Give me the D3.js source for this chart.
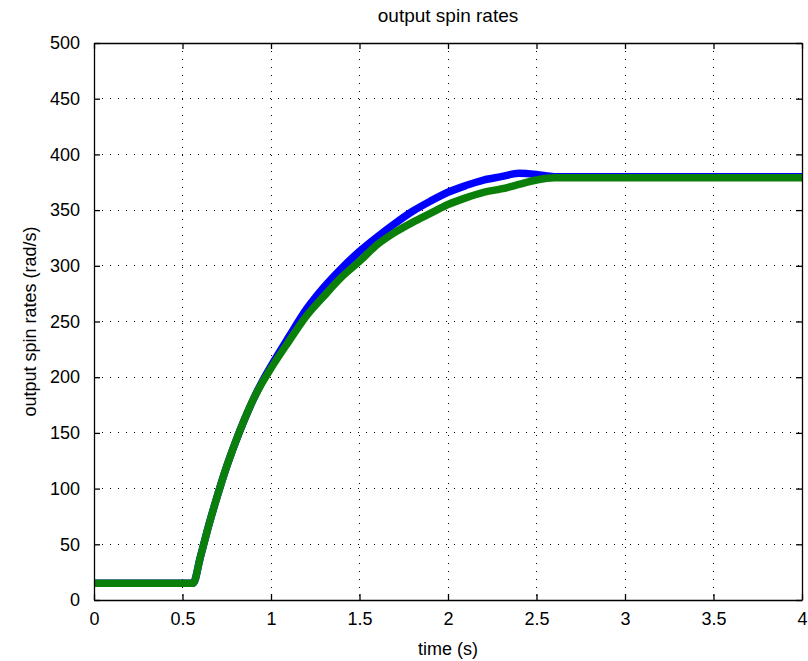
<!DOCTYPE html>
<html>
<head>
<meta charset="utf-8">
<script src="https://cdn.jsdelivr.net/npm/d3@7"></script>
<style>
  html, body { margin: 0; padding: 0; background: #ffffff; }
  svg { display: block; }
  text { font-family: "Liberation Sans", Arial, sans-serif; fill: #000; }
</style>
</head>
<body>
<svg id="chart" width="808" height="661"></svg>
<script>
// ---- data ----
const time = [0, 0.3, 0.56, 0.6, 0.65, 0.7, 0.75, 0.8, 0.85, 0.9, 0.95, 1.0, 1.1, 1.2, 1.3, 1.4, 1.5, 1.6, 1.7, 1.8, 1.9, 2.0, 2.1, 2.2, 2.3, 2.4, 2.5, 2.6, 2.8, 3.0, 3.5, 4.0];
const blueRate = [15, 15, 15, 38, 68, 95, 120, 142, 162, 180, 196, 210, 236, 261, 281, 298, 313, 326, 338, 349, 358, 366, 372, 377, 380, 383, 382, 380, 380, 380, 380, 380];
const greenRate = [15, 15, 15, 38, 68, 95, 120, 142, 162, 180, 195, 208, 232, 255, 273, 290, 304, 319, 330, 339, 347, 355, 361, 366, 369, 373, 377, 379, 379, 379, 379, 379];
const xTicks = [0, 0.5, 1, 1.5, 2, 2.5, 3, 3.5, 4];
const xTickLabels = ["0", "0.5", "1", "1.5", "2", "2.5", "3", "3.5", "4"];
const yTicks = [0, 50, 100, 150, 200, 250, 300, 350, 400, 450, 500];
const titleText = "output spin rates";
const xLabelText = "time (s)";
const yLabelText = "output spin rates (rad/s)";

// ---- layout ----
const svg = d3.select("#chart");
const L = 94, R = 802, T = 43, B = 600;
const x = d3.scaleLinear().domain([0, 4]).range([L, R]);
const y = d3.scaleLinear().domain([0, 500]).range([B, T]);

// grid
const grid = svg.append("g");
grid.selectAll(".gx").data(xTicks.slice(1, -1)).enter().append("line")
  .attr("x1", d => x(d)).attr("x2", d => x(d)).attr("y1", T).attr("y2", B)
  .attr("stroke", "#000").attr("stroke-width", 1).attr("stroke-dasharray", "1,7")
  .attr("shape-rendering", "crispEdges");
grid.selectAll(".gy").data(yTicks.slice(1, -1)).enter().append("line")
  .attr("x1", L).attr("x2", R).attr("y1", d => y(d)).attr("y2", d => y(d))
  .attr("stroke", "#000").attr("stroke-width", 1).attr("stroke-dasharray", "1,7")
  .attr("shape-rendering", "crispEdges");

// lines
const line = d3.line().curve(d3.curveMonotoneX);
const bluePts = time.map((t, i) => [x(t), y(blueRate[i])]);
const greenPts = time.map((t, i) => [x(t), y(greenRate[i])]);
svg.append("path").attr("d", line(bluePts)).attr("fill", "none")
  .attr("stroke", "#0000ff").attr("stroke-width", 7.5).attr("stroke-linejoin", "round");
svg.append("path").attr("d", line(greenPts)).attr("fill", "none")
  .attr("stroke", "#0a7f0a").attr("stroke-width", 7.5).attr("stroke-linejoin", "round");

// axes
const fmtX = (d, i) => xTickLabels[i];
const ax = svg.append("g").attr("transform", `translate(0,${B})`)
  .call(d3.axisBottom(x).tickValues(xTicks).tickFormat(fmtX).tickSizeInner(-6).tickSizeOuter(0).tickPadding(12));
const axTop = svg.append("g").attr("transform", `translate(0,${T})`)
  .call(d3.axisTop(x).tickValues(xTicks).tickFormat("").tickSizeInner(-6).tickSizeOuter(0));
const ay = svg.append("g").attr("transform", `translate(${L},0)`)
  .call(d3.axisLeft(y).tickValues(yTicks).tickFormat(d3.format("d")).tickSizeInner(-6).tickSizeOuter(0).tickPadding(14));
const ayR = svg.append("g").attr("transform", `translate(${R},0)`)
  .call(d3.axisRight(y).tickValues(yTicks).tickFormat("").tickSizeInner(-6).tickSizeOuter(0));
[ax, axTop, ay, ayR].forEach(g => {
  g.selectAll("path").attr("stroke", "#000").attr("stroke-width", 1.3);
  g.selectAll("line").attr("stroke", "#000").attr("stroke-width", 1.3);
  g.selectAll("text").style("font-size", "18px").attr("fill", "#222")
    .style("font-family", "'Liberation Sans', Arial, sans-serif");
});

// titles
svg.append("text").attr("x", (L + R) / 2).attr("y", 22).attr("text-anchor", "middle")
  .style("font-size", "19px").attr("fill", "#222").text(titleText);
svg.append("text").attr("x", (L + R) / 2).attr("y", 655).attr("text-anchor", "middle")
  .style("font-size", "18px").attr("fill", "#222").text(xLabelText);
svg.append("text").attr("transform", `translate(36,${(T + B) / 2}) rotate(-90)`)
  .attr("text-anchor", "middle").style("font-size", "18px").attr("fill", "#222").text(yLabelText);
</script>
</body>
</html>
